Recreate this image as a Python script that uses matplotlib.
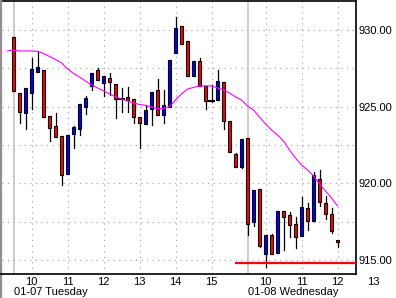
import matplotlib
matplotlib.use("Agg")
import matplotlib.pyplot as plt
from matplotlib.patches import Rectangle
from matplotlib.lines import Line2D

# 10-minute bars, 01-07 09:30 through 01-08 12:00 (39 bars per session)
opens = [929.52, 925.87, 924.57, 925.87, 927.28, 927.39, 924.39, 923.74, 923.09, 920.59,
         923.24, 923.56, 925.00, 926.37, 927.37, 926.56, 926.85, 926.46, 925.48, 925.61,
         925.48, 924.34, 923.85, 924.83, 926.07, 924.44, 925.00, 928.48, 930.24, 929.30,
         927.02, 927.96, 926.37, 925.37, 925.41, 926.59, 924.06, 921.89, 921.06, 922.93,
         917.46, 919.63, 915.41, 916.61, 915.43, 918.19, 917.91, 917.33, 916.58, 918.37,
         917.56, 920.26, 918.70, 917.98, 916.30]
highs = [929.52, 925.87, 926.20, 928.15, 928.58, 927.39, 924.39, 924.61, 923.09, 923.15,
         923.74, 925.15, 925.69, 927.18, 927.50, 926.98, 927.18, 926.46, 926.24, 926.30,
         925.48, 924.34, 925.11, 925.94, 926.80, 926.10, 928.02, 930.82, 930.24, 929.30,
         927.96, 928.20, 926.37, 926.41, 927.39, 926.59, 924.06, 921.96, 922.87, 922.93,
         919.56, 919.63, 916.61, 916.67, 918.19, 918.19, 918.11, 917.78, 919.09, 918.69,
         920.72, 920.85, 919.15, 918.37, 916.30]
lows = [926.00, 923.95, 923.52, 924.83, 927.28, 924.35, 922.78, 923.04, 919.91, 920.59,
        922.32, 923.17, 924.54, 926.09, 926.76, 925.71, 925.76, 924.28, 924.67, 924.67,
        923.91, 922.32, 923.85, 923.82, 924.44, 923.93, 925.00, 928.48, 929.07, 927.00,
        927.02, 926.37, 924.83, 925.30, 925.41, 923.56, 922.02, 921.04, 921.02, 916.63,
        917.21, 915.83, 914.56, 915.41, 915.43, 915.65, 916.52, 915.76, 916.58, 916.96,
        917.56, 918.50, 917.65, 916.74, 915.86]
closes = [926.00, 924.63, 926.20, 927.44, 927.57, 924.35, 923.59, 923.04, 920.52, 923.15,
          923.65, 925.15, 925.54, 927.18, 926.76, 926.98, 926.63, 925.52, 925.48, 925.41,
          924.31, 923.91, 924.78, 925.94, 924.44, 925.09, 928.02, 930.11, 929.07, 927.00,
          927.96, 926.37, 925.37, 925.37, 926.67, 924.04, 922.02, 921.04, 922.87, 917.37,
          919.56, 915.93, 916.61, 915.41, 918.19, 917.78, 917.26, 916.52, 918.43, 917.56,
          920.52, 918.76, 917.98, 916.87, 916.15]
# moving average, starts one bar before the first candle
ma = [928.63, 928.70, 928.63, 928.63, 928.63, 928.61, 928.47, 928.27, 928.08, 927.85,
      927.46, 927.16, 926.93, 926.67, 926.41, 926.22, 926.03, 925.83, 925.64, 925.50,
      925.37, 925.24, 925.14, 925.08, 924.98, 924.85, 924.88, 925.01, 925.43, 925.83,
      926.15, 926.25, 926.35, 926.35, 926.35, 926.22, 926.09, 925.89, 925.63, 925.43,
      925.04, 924.78, 924.32, 923.87, 923.48, 923.15, 922.76, 922.17, 921.65, 921.19,
      920.87, 920.48, 919.95, 919.50, 919.04, 918.52]
support = 914.82
support_from = 36.9

days = ["01-07 Tuesday", "01-08 Wednesday"]
day_hours = [[10, 11, 12, 13, 14, 15], [10, 11, 12, 13]]
price_ticks = [915, 920, 925, 930]
grid_prices = [915, 917.5, 920, 922.5, 925, 927.5, 930]

bars_per_day = 39
bars_per_hour = 6
open_hour = 9.5

plt.rcParams['font.family'] = ['Liberation Sans', 'DejaVu Sans']
fig = plt.figure(figsize=(3.96, 2.98), dpi=100)
ax = fig.add_axes([2/396, 24/298, 354/396, 273/298])
ax.set_xlim(-1.92, 57.08)
ax.set_ylim(914.08, 931.89)

# grid
for p in grid_prices:
    ax.axhline(p, color='#a0a0a0', lw=0.8, ls=(0, (1, 4)), zorder=0)
for d in range(len(days)):
    ax.axvline(d * bars_per_day, color='#c0c0c0', lw=1.1, zorder=0)
    for h in day_hours[d]:
        x = d * bars_per_day + (h - open_hour) * bars_per_hour
        ax.axvline(x, color='#a0a0a0', lw=0.8, ls=(0, (1, 4)), zorder=0)
        ax.annotate(str(h), xy=(x, 0), xycoords=('data', 'axes fraction'),
                    xytext=(0, -8), textcoords='offset pixels',
                    ha='center', va='center', fontsize=8, annotation_clip=False)
    ax.annotate(days[d], xy=(d * bars_per_day, 0), xycoords=('data', 'axes fraction'),
                xytext=(0, -18), textcoords='offset pixels',
                ha='left', va='center', fontsize=8, annotation_clip=False)

# candles
w = 0.58
for i in range(len(opens)):
    o, h, l, c = opens[i], highs[i], lows[i], closes[i]
    ax.plot([i, i], [l, h], color='black', lw=0.9, zorder=2)
    if c == o:
        ax.plot([i - w/2 - 0.1, i + w/2 + 0.1], [o, o], color='black', lw=1.5, zorder=3)
        continue
    col = '#0000ff' if c > o else '#ff0000'
    ax.add_patch(Rectangle((i - w/2, min(o, c)), w, abs(c - o),
                           facecolor=col, edgecolor='black', lw=0.8, zorder=3))

ax.plot(range(-1, len(ma) - 1), ma, color='#ff00ff', lw=0.8, zorder=4)
ax.hlines(support, support_from, 57.08, color='#ff0000', lw=1.6, zorder=4)

ax.yaxis.tick_right()
ax.set_yticks(price_ticks)
ax.set_yticklabels([f"{p:.2f}" for p in price_ticks])
ax.tick_params(axis='y', length=0, pad=2, labelsize=8)
ax.set_xticks([])
for s in ['top', 'right', 'bottom']:
    ax.spines[s].set_color('black')
    ax.spines[s].set_linewidth(1.2)
ax.spines['left'].set_visible(False)
fig.add_artist(Line2D([1/396, 1/396], [0, 1], color='#909090', lw=1.6))
fig.add_artist(Line2D([0, 2/396], [24/298, 24/298], color='black', lw=1.2))

plt.savefig("out.png", dpi=100)
